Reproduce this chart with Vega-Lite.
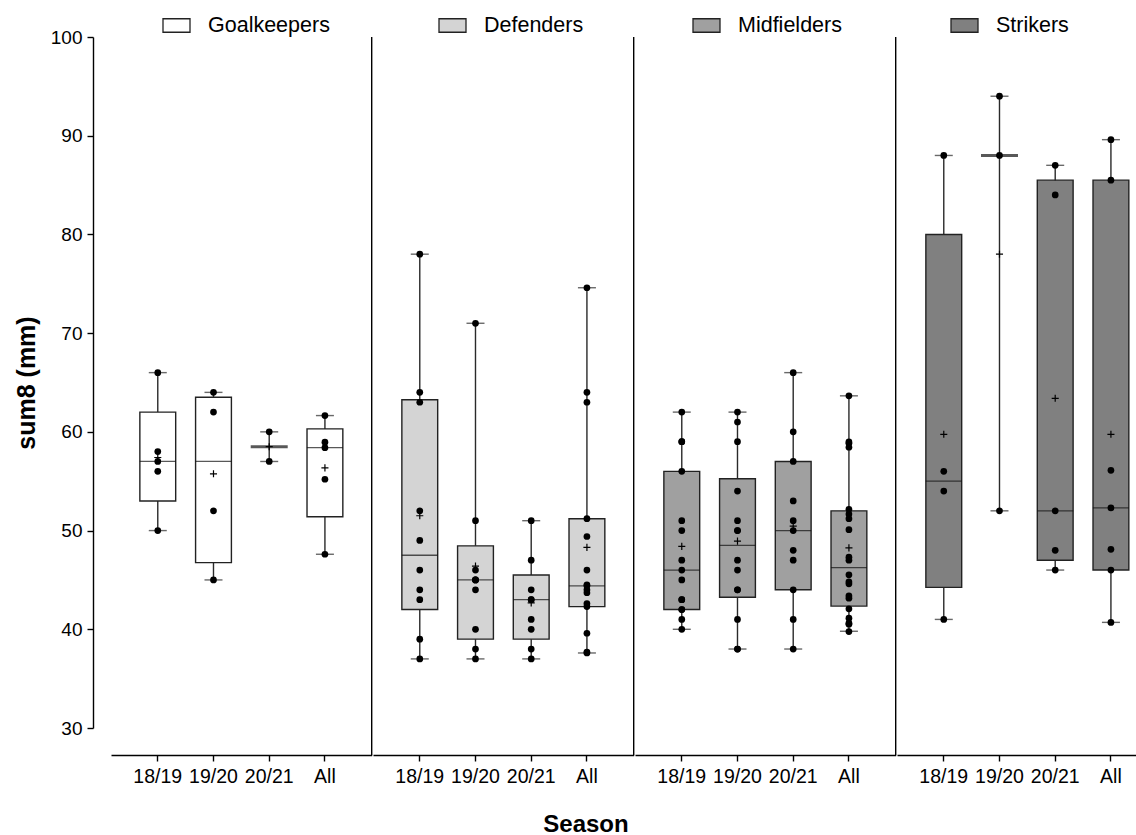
{
  "$schema": "https://vega.github.io/schema/vega-lite/v6.json",
  "padding": {"left": 14, "top": 11, "right": 0, "bottom": 0},
  "title": {"text": "Season", "orient": "bottom", "anchor": "middle", "fontSize": 24, "fontWeight": "bold", "font": "Liberation Sans", "color": "black", "offset": 27},
  "data": {"values": [
    {"position":"Goalkeepers","season":"18/19","kind":"box","min":50,"q1":53,"median":57,"q3":62,"max":66,"mean":57.4},
    {"position":"Goalkeepers","season":"19/20","kind":"box","min":45,"q1":46.75,"median":57,"q3":63.5,"max":64,"mean":55.75},
    {"position":"Goalkeepers","season":"20/21","kind":"box","min":57,"q1":null,"median":58.5,"q3":null,"max":60,"mean":58.5},
    {"position":"Goalkeepers","season":"All","kind":"box","min":47.6,"q1":51.4,"median":58.4,"q3":60.3,"max":61.65,"mean":56.35},
    {"position":"Defenders","season":"18/19","kind":"box","min":37,"q1":42,"median":47.5,"q3":63.25,"max":78,"mean":51.5},
    {"position":"Defenders","season":"19/20","kind":"box","min":37,"q1":39,"median":45,"q3":48.45,"max":71,"mean":46.4},
    {"position":"Defenders","season":"20/21","kind":"box","min":37,"q1":39,"median":43,"q3":45.5,"max":51,"mean":42.67},
    {"position":"Defenders","season":"All","kind":"box","min":37.6,"q1":42.3,"median":44.4,"q3":51.2,"max":74.6,"mean":48.3},
    {"position":"Midfielders","season":"18/19","kind":"box","min":40,"q1":42,"median":46,"q3":56,"max":62,"mean":48.4},
    {"position":"Midfielders","season":"19/20","kind":"box","min":38,"q1":43.25,"median":48.5,"q3":55.25,"max":62,"mean":48.93},
    {"position":"Midfielders","season":"20/21","kind":"box","min":38,"q1":44,"median":50,"q3":57,"max":66,"mean":50.45},
    {"position":"Midfielders","season":"All","kind":"box","min":39.8,"q1":42.35,"median":46.25,"q3":52,"max":63.65,"mean":48.25},
    {"position":"Strikers","season":"18/19","kind":"box","min":41,"q1":44.25,"median":55,"q3":80,"max":88,"mean":59.75},
    {"position":"Strikers","season":"19/20","kind":"box","min":52,"q1":null,"median":88,"q3":null,"max":94,"mean":78},
    {"position":"Strikers","season":"20/21","kind":"box","min":46,"q1":47,"median":52,"q3":85.5,"max":87,"mean":63.4},
    {"position":"Strikers","season":"All","kind":"box","min":40.7,"q1":46,"median":52.3,"q3":85.5,"max":89.6,"mean":59.75},

    {"position":"Goalkeepers","season":"18/19","kind":"pt","value":66},
    {"position":"Goalkeepers","season":"18/19","kind":"pt","value":58},
    {"position":"Goalkeepers","season":"18/19","kind":"pt","value":57},
    {"position":"Goalkeepers","season":"18/19","kind":"pt","value":56},
    {"position":"Goalkeepers","season":"18/19","kind":"pt","value":50},
    {"position":"Goalkeepers","season":"19/20","kind":"pt","value":64},
    {"position":"Goalkeepers","season":"19/20","kind":"pt","value":62},
    {"position":"Goalkeepers","season":"19/20","kind":"pt","value":52},
    {"position":"Goalkeepers","season":"19/20","kind":"pt","value":45},
    {"position":"Goalkeepers","season":"20/21","kind":"pt","value":60},
    {"position":"Goalkeepers","season":"20/21","kind":"pt","value":57},
    {"position":"Goalkeepers","season":"All","kind":"pt","value":61.65},
    {"position":"Goalkeepers","season":"All","kind":"pt","value":58.95},
    {"position":"Goalkeepers","season":"All","kind":"pt","value":58.4},
    {"position":"Goalkeepers","season":"All","kind":"pt","value":55.2},
    {"position":"Goalkeepers","season":"All","kind":"pt","value":47.6},

    {"position":"Defenders","season":"18/19","kind":"pt","value":78},
    {"position":"Defenders","season":"18/19","kind":"pt","value":64},
    {"position":"Defenders","season":"18/19","kind":"pt","value":63},
    {"position":"Defenders","season":"18/19","kind":"pt","value":52},
    {"position":"Defenders","season":"18/19","kind":"pt","value":49},
    {"position":"Defenders","season":"18/19","kind":"pt","value":46},
    {"position":"Defenders","season":"18/19","kind":"pt","value":44},
    {"position":"Defenders","season":"18/19","kind":"pt","value":43},
    {"position":"Defenders","season":"18/19","kind":"pt","value":39},
    {"position":"Defenders","season":"18/19","kind":"pt","value":37},
    {"position":"Defenders","season":"19/20","kind":"pt","value":71},
    {"position":"Defenders","season":"19/20","kind":"pt","value":51},
    {"position":"Defenders","season":"19/20","kind":"pt","value":46},
    {"position":"Defenders","season":"19/20","kind":"pt","value":45},
    {"position":"Defenders","season":"19/20","kind":"pt","value":45},
    {"position":"Defenders","season":"19/20","kind":"pt","value":45},
    {"position":"Defenders","season":"19/20","kind":"pt","value":44},
    {"position":"Defenders","season":"19/20","kind":"pt","value":40},
    {"position":"Defenders","season":"19/20","kind":"pt","value":38},
    {"position":"Defenders","season":"19/20","kind":"pt","value":37},
    {"position":"Defenders","season":"20/21","kind":"pt","value":51},
    {"position":"Defenders","season":"20/21","kind":"pt","value":47},
    {"position":"Defenders","season":"20/21","kind":"pt","value":44},
    {"position":"Defenders","season":"20/21","kind":"pt","value":43},
    {"position":"Defenders","season":"20/21","kind":"pt","value":43},
    {"position":"Defenders","season":"20/21","kind":"pt","value":41},
    {"position":"Defenders","season":"20/21","kind":"pt","value":40},
    {"position":"Defenders","season":"20/21","kind":"pt","value":38},
    {"position":"Defenders","season":"20/21","kind":"pt","value":37},
    {"position":"Defenders","season":"All","kind":"pt","value":74.6},
    {"position":"Defenders","season":"All","kind":"pt","value":64},
    {"position":"Defenders","season":"All","kind":"pt","value":63},
    {"position":"Defenders","season":"All","kind":"pt","value":51.2},
    {"position":"Defenders","season":"All","kind":"pt","value":49.4},
    {"position":"Defenders","season":"All","kind":"pt","value":46},
    {"position":"Defenders","season":"All","kind":"pt","value":44.5},
    {"position":"Defenders","season":"All","kind":"pt","value":44.4},
    {"position":"Defenders","season":"All","kind":"pt","value":44},
    {"position":"Defenders","season":"All","kind":"pt","value":43.7},
    {"position":"Defenders","season":"All","kind":"pt","value":42.6},
    {"position":"Defenders","season":"All","kind":"pt","value":42.3},
    {"position":"Defenders","season":"All","kind":"pt","value":39.6},
    {"position":"Defenders","season":"All","kind":"pt","value":37.7},
    {"position":"Defenders","season":"All","kind":"pt","value":37.6},

    {"position":"Midfielders","season":"18/19","kind":"pt","value":62},
    {"position":"Midfielders","season":"18/19","kind":"pt","value":59},
    {"position":"Midfielders","season":"18/19","kind":"pt","value":59},
    {"position":"Midfielders","season":"18/19","kind":"pt","value":56},
    {"position":"Midfielders","season":"18/19","kind":"pt","value":51},
    {"position":"Midfielders","season":"18/19","kind":"pt","value":50},
    {"position":"Midfielders","season":"18/19","kind":"pt","value":47},
    {"position":"Midfielders","season":"18/19","kind":"pt","value":46},
    {"position":"Midfielders","season":"18/19","kind":"pt","value":45},
    {"position":"Midfielders","season":"18/19","kind":"pt","value":43},
    {"position":"Midfielders","season":"18/19","kind":"pt","value":43},
    {"position":"Midfielders","season":"18/19","kind":"pt","value":42},
    {"position":"Midfielders","season":"18/19","kind":"pt","value":42},
    {"position":"Midfielders","season":"18/19","kind":"pt","value":41},
    {"position":"Midfielders","season":"18/19","kind":"pt","value":40},
    {"position":"Midfielders","season":"19/20","kind":"pt","value":62},
    {"position":"Midfielders","season":"19/20","kind":"pt","value":61},
    {"position":"Midfielders","season":"19/20","kind":"pt","value":59},
    {"position":"Midfielders","season":"19/20","kind":"pt","value":54},
    {"position":"Midfielders","season":"19/20","kind":"pt","value":51},
    {"position":"Midfielders","season":"19/20","kind":"pt","value":50},
    {"position":"Midfielders","season":"19/20","kind":"pt","value":50},
    {"position":"Midfielders","season":"19/20","kind":"pt","value":47},
    {"position":"Midfielders","season":"19/20","kind":"pt","value":46},
    {"position":"Midfielders","season":"19/20","kind":"pt","value":44},
    {"position":"Midfielders","season":"19/20","kind":"pt","value":44},
    {"position":"Midfielders","season":"19/20","kind":"pt","value":41},
    {"position":"Midfielders","season":"19/20","kind":"pt","value":38},
    {"position":"Midfielders","season":"19/20","kind":"pt","value":38},
    {"position":"Midfielders","season":"20/21","kind":"pt","value":66},
    {"position":"Midfielders","season":"20/21","kind":"pt","value":60},
    {"position":"Midfielders","season":"20/21","kind":"pt","value":57},
    {"position":"Midfielders","season":"20/21","kind":"pt","value":53},
    {"position":"Midfielders","season":"20/21","kind":"pt","value":51},
    {"position":"Midfielders","season":"20/21","kind":"pt","value":50},
    {"position":"Midfielders","season":"20/21","kind":"pt","value":48},
    {"position":"Midfielders","season":"20/21","kind":"pt","value":47},
    {"position":"Midfielders","season":"20/21","kind":"pt","value":44},
    {"position":"Midfielders","season":"20/21","kind":"pt","value":41},
    {"position":"Midfielders","season":"20/21","kind":"pt","value":38},
    {"position":"Midfielders","season":"All","kind":"pt","value":63.65},
    {"position":"Midfielders","season":"All","kind":"pt","value":58.98},
    {"position":"Midfielders","season":"All","kind":"pt","value":58.85},
    {"position":"Midfielders","season":"All","kind":"pt","value":58.44},
    {"position":"Midfielders","season":"All","kind":"pt","value":52.15},
    {"position":"Midfielders","season":"All","kind":"pt","value":51.68},
    {"position":"Midfielders","season":"All","kind":"pt","value":51.2},
    {"position":"Midfielders","season":"All","kind":"pt","value":50.09},
    {"position":"Midfielders","season":"All","kind":"pt","value":47.31},
    {"position":"Midfielders","season":"All","kind":"pt","value":47.0},
    {"position":"Midfielders","season":"All","kind":"pt","value":45.52},
    {"position":"Midfielders","season":"All","kind":"pt","value":44.81},
    {"position":"Midfielders","season":"All","kind":"pt","value":44.61},
    {"position":"Midfielders","season":"All","kind":"pt","value":43.39},
    {"position":"Midfielders","season":"All","kind":"pt","value":43.15},
    {"position":"Midfielders","season":"All","kind":"pt","value":42.07},
    {"position":"Midfielders","season":"All","kind":"pt","value":41.13},
    {"position":"Midfielders","season":"All","kind":"pt","value":40.62},
    {"position":"Midfielders","season":"All","kind":"pt","value":40.52},
    {"position":"Midfielders","season":"All","kind":"pt","value":39.77},

    {"position":"Strikers","season":"18/19","kind":"pt","value":88},
    {"position":"Strikers","season":"18/19","kind":"pt","value":56},
    {"position":"Strikers","season":"18/19","kind":"pt","value":54},
    {"position":"Strikers","season":"18/19","kind":"pt","value":41},
    {"position":"Strikers","season":"19/20","kind":"pt","value":94},
    {"position":"Strikers","season":"19/20","kind":"pt","value":88},
    {"position":"Strikers","season":"19/20","kind":"pt","value":52},
    {"position":"Strikers","season":"20/21","kind":"pt","value":87},
    {"position":"Strikers","season":"20/21","kind":"pt","value":84},
    {"position":"Strikers","season":"20/21","kind":"pt","value":52},
    {"position":"Strikers","season":"20/21","kind":"pt","value":48},
    {"position":"Strikers","season":"20/21","kind":"pt","value":46},
    {"position":"Strikers","season":"All","kind":"pt","value":89.6},
    {"position":"Strikers","season":"All","kind":"pt","value":85.5},
    {"position":"Strikers","season":"All","kind":"pt","value":56.1},
    {"position":"Strikers","season":"All","kind":"pt","value":52.3},
    {"position":"Strikers","season":"All","kind":"pt","value":48.1},
    {"position":"Strikers","season":"All","kind":"pt","value":46},
    {"position":"Strikers","season":"All","kind":"pt","value":40.7}
  ]},
  "spacing": 0,
  "resolve": {"scale": {"x": "independent"}},
  "facet": {
    "column": {
      "field": "position", "type": "nominal",
      "sort": ["Goalkeepers", "Defenders", "Midfielders", "Strikers"],
      "header": {"title": null, "labels": false, "labelPadding": 0, "titlePadding": 0}
    }
  },
  "spec": {
    "width": 260.7,
    "height": 691,
    "encoding": {
      "x": {
        "field": "season", "type": "ordinal",
        "sort": ["18/19", "19/20", "20/21", "All"],
        "scale": {"paddingInner": 0.357, "paddingOuter": 0.518},
        "title": null
      }
    },
    "layer": [
      {
        "transform": [{"filter": "datum.kind == 'box' && datum.season == 'All' && datum.position != 'Strikers'"}],
        "mark": {"type": "rule", "color": "black", "strokeWidth": 1.4},
        "encoding": {"x": {"value": "width"}, "y": {"datum": 100}, "y2": {"datum": 27.24}}
      },
      {
        "transform": [{"filter": "datum.kind == 'box'"}],
        "mark": {"type": "rule", "color": "#2a2a2a", "strokeWidth": 1.4},
        "encoding": {
          "y": {"field": "min", "type": "quantitative", "title": "sum8 (mm)",
                "scale": {"domain": [30, 100], "nice": false, "zero": false},
                "axis": {"values": [30, 40, 50, 60, 70, 80, 90, 100]}},
          "y2": {"field": "max"}
        }
      },
      {
        "transform": [{"filter": "datum.kind == 'box' && datum.q1 != null"}],
        "mark": {"type": "bar", "stroke": "#222222", "strokeWidth": 1.4},
        "encoding": {
          "y": {"field": "q1", "type": "quantitative", "title": "sum8 (mm)"},
          "y2": {"field": "q3"},
          "fill": {
            "field": "position", "type": "nominal",
            "scale": {"domain": ["Goalkeepers", "Defenders", "Midfielders", "Strikers"],
                      "range": ["#ffffff", "#d4d4d4", "#a0a0a0", "#808080"]},
            "legend": {
              "title": " ", "titleOrient": "left", "titleFontSize": 10, "titlePadding": 51,
              "orient": "top", "direction": "horizontal",
              "symbolType": "M-1,-0.5H1V0.5H-1Z", "symbolSize": 729,
              "symbolStrokeColor": "#222222", "symbolStrokeWidth": 1.3, "symbolOpacity": 1,
              "labelFontSize": 21.5, "labelOffset": 17, "labelColor": "black",
              "columnPadding": 106, "offset": -8
            }
          }
        }
      },
      {
        "transform": [{"filter": "datum.kind == 'box' && datum.q1 != null"}],
        "mark": {"type": "tick", "color": "#111111", "thickness": 1.3, "size": 36},
        "encoding": {"y": {"field": "median", "type": "quantitative", "title": "sum8 (mm)"}}
      },
      {
        "transform": [{"filter": "datum.kind == 'box' && datum.q1 == null"}],
        "mark": {"type": "tick", "color": "#111111", "thickness": 3, "size": 37},
        "encoding": {"y": {"field": "median", "type": "quantitative", "title": "sum8 (mm)"}}
      },
      {
        "transform": [{"filter": "datum.kind == 'box'"}],
        "mark": {"type": "tick", "color": "#2a2a2a", "thickness": 1.4, "size": 18},
        "encoding": {"y": {"field": "min", "type": "quantitative", "title": "sum8 (mm)"}}
      },
      {
        "transform": [{"filter": "datum.kind == 'box'"}],
        "mark": {"type": "tick", "color": "#2a2a2a", "thickness": 1.4, "size": 18},
        "encoding": {"y": {"field": "max", "type": "quantitative", "title": "sum8 (mm)"}}
      },
      {
        "transform": [{"filter": "datum.kind == 'pt'"}],
        "mark": {"type": "circle", "size": 45, "color": "black", "opacity": 1},
        "encoding": {"y": {"field": "value", "type": "quantitative", "title": "sum8 (mm)"}}
      },
      {
        "transform": [{"filter": "datum.kind == 'box'"}],
        "mark": {"type": "point", "shape": "M-1,0H1M0,-1V1", "size": 50, "filled": false, "stroke": "black", "strokeWidth": 1.2, "opacity": 1},
        "encoding": {"y": {"field": "mean", "type": "quantitative", "title": "sum8 (mm)"}}
      }
    ]
  },
  "config": {
    "font": "Liberation Sans",
    "view": {"stroke": null},
    "axis": {"grid": false, "domainColor": "black", "tickColor": "black", "labelColor": "black", "titleColor": "black",
             "domainWidth": 1.4, "tickWidth": 1.4, "tickSize": 6, "labelFontSize": 19.5,
             "labelFont": "Liberation Sans", "titleFont": "Liberation Sans"},
    "axisX": {"offset": 27, "labelPadding": 6, "labelAngle": 0},
    "axisY": {"offset": 18, "labelPadding": 5, "labelFontSize": 19, "titleFontSize": 25, "titleFontWeight": "bold", "titlePadding": 11},
    "legend": {"layout": {"top": {"anchor": "start"}}}
  }
}
